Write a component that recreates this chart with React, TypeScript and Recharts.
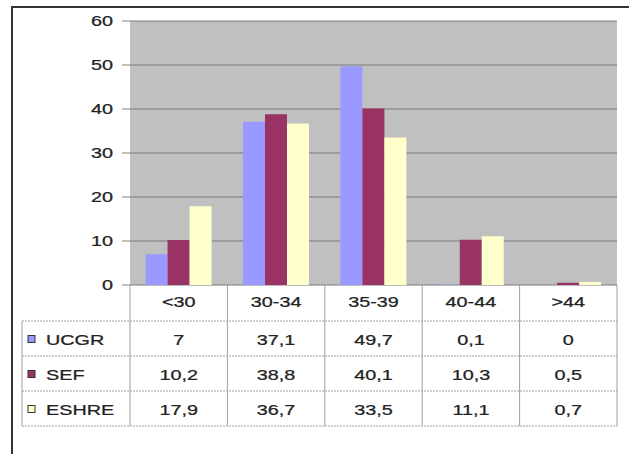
import React from "react";
import { BarChart, Bar, CartesianGrid, XAxis, YAxis } from "recharts";

const categories = ["<30", "30-34", "35-39", "40-44", ">44"];
const seriesNames = ["UCGR", "SEF", "ESHRE"];
const ucgr = [7, 37.1, 49.7, 0.1, 0];
const sef = [10.2, 38.8, 40.1, 10.3, 0.5];
const eshre = [17.9, 36.7, 33.5, 11.1, 0.7];
const yTicks = [0, 10, 20, 30, 40, 50, 60];

const seriesValues = [ucgr, sef, eshre];
const seriesColors = ["#9999ff", "#993366", "#ffffcc"];

const data = categories.map((cat, i) => ({
  cat,
  UCGR: ucgr[i],
  SEF: sef[i],
  ESHRE: eshre[i],
}));

const W = 629;
const H = 454;
const PLOT_LEFT = 130;
const PLOT_RIGHT = 12;
const BAND = (W - PLOT_LEFT - PLOT_RIGHT) / categories.length;
const TABLE_LEFT = 22;
const HEADER_H = 36;
const ROW_H = 35;
const FONT = "'Liberation Sans', Arial, sans-serif";
const STRETCH = 1.32;
const TEXT_COLOR = "#222";
const LINE = "#a0a0a0";

// decimal comma, as in the source table
const fmt = (v: number) => String(v).replace(".", ",");

function WideText({ x, y, anchor, children }: { x: number; y: number; anchor: "start" | "middle" | "end"; children: React.ReactNode }) {
  return (
    <g transform={`translate(${x},${y}) scale(${STRETCH},1)`}>
      <text
        x={0}
        y={0}
        dy="0.36em"
        textAnchor={anchor}
        fontFamily={FONT}
        fontSize={15}
        fill={TEXT_COLOR}
        stroke={TEXT_COLOR}
        strokeWidth={0.25}
      >
        {children}
      </text>
    </g>
  );
}

function YTick(props: any) {
  const { x, y, payload } = props;
  return <WideText x={x} y={y} anchor="end">{payload.value}</WideText>;
}

// each x tick draws its own column of the data table
function TableColumn(props: any) {
  const { x, y, payload, index } = props;
  const left = x - BAND / 2;
  const right = x + BAND / 2;
  const bottom = y + HEADER_H + ROW_H * seriesNames.length;
  const rowY = (r: number) => y + HEADER_H + ROW_H * r;
  const tableRight = PLOT_LEFT + BAND * categories.length;

  return (
    <g>
      <line x1={left} x2={left} y1={y} y2={bottom} stroke={LINE} />
      {index === categories.length - 1 && <line x1={right} x2={right} y1={y} y2={bottom} stroke={LINE} />}
      <WideText x={x} y={y + 17} anchor="middle">{payload.value}</WideText>
      {seriesValues.map((vals, r) => (
        <WideText key={r} x={x} y={rowY(r) + ROW_H / 2 + 1} anchor="middle">
          {fmt(vals[index])}
        </WideText>
      ))}
      {index === 0 && (
        <g>
          {[0, 1, 2, 3].map((r) => (
            <line
              key={r}
              x1={TABLE_LEFT}
              x2={tableRight}
              y1={rowY(r)}
              y2={rowY(r)}
              stroke={LINE}
              strokeDasharray="2 1"
            />
          ))}
          <line x1={TABLE_LEFT} x2={TABLE_LEFT} y1={rowY(0)} y2={bottom} stroke={LINE} />
          {seriesNames.map((name, r) => (
            <g key={name}>
              <rect
                x={28}
                y={rowY(r) + ROW_H / 2 - 3}
                width={7}
                height={7}
                fill={seriesColors[r]}
                stroke="#333"
                strokeWidth={1}
              />
              <WideText x={46} y={rowY(r) + ROW_H / 2 + 1} anchor="start">{name}</WideText>
            </g>
          ))}
        </g>
      )}
    </g>
  );
}

export default function App() {
  return (
    <div
      style={{
        position: "absolute",
        left: 0,
        top: 0,
        width: W,
        height: H,
        background: "#fff",
        overflow: "hidden",
      }}
    >
      <div
        style={{
          position: "absolute",
          left: 11,
          top: 6,
          width: W,
          height: H,
          borderTop: "2px solid #333",
          borderLeft: "2px solid #333",
        }}
      />
      <div style={{ position: "absolute", left: 0, top: 0 }}>
        <BarChart
          width={W}
          height={H}
          data={data}
          margin={{ top: 21, right: PLOT_RIGHT, bottom: 28, left: 0 }}
          barCategoryGap="16%"
          barGap={0}
        >
          <CartesianGrid vertical={false} stroke="#7a7a7a" fill="#c0c0c0" fillOpacity={1} />
          <XAxis
            dataKey="cat"
            axisLine={false}
            tickLine={false}
            tickSize={0}
            tickMargin={0}
            height={HEADER_H + ROW_H * 3}
            interval={0}
            tick={<TableColumn />}
          />
          <YAxis
            domain={[0, 60]}
            ticks={yTicks}
            width={PLOT_LEFT}
            axisLine={false}
            tickSize={8}
            tickMargin={9}
            tickLine={{ stroke: "#808080" }}
            tick={<YTick />}
          />
          {seriesNames.map((name, i) => (
            <Bar key={name} dataKey={name} fill={seriesColors[i]} isAnimationActive={false} />
          ))}
        </BarChart>
      </div>
    </div>
  );
}
